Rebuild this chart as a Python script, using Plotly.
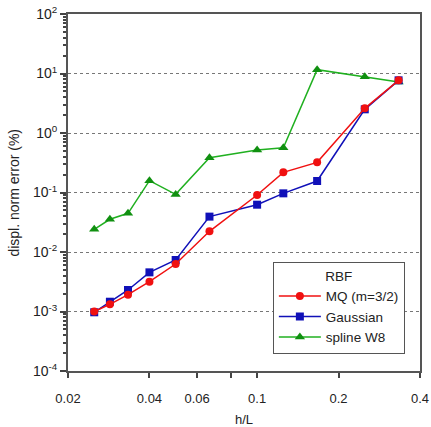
import plotly.graph_objects as go

h_L = [0.025, 0.02857, 0.03333, 0.04, 0.05, 0.06667, 0.1, 0.125, 0.16667, 0.25, 0.33333]
mq = [0.00100, 0.00132, 0.00192, 0.00317, 0.00628, 0.0223, 0.0908, 0.218, 0.321, 2.60, 7.68]
gauss = [0.00097, 0.00146, 0.0023, 0.00455, 0.00734, 0.0393, 0.0624, 0.0968, 0.156, 2.50, 7.68]
spline = [0.0241, 0.0355, 0.0447, 0.158, 0.093, 0.385, 0.518, 0.566, 11.6, 8.85, 7.2]

x_tickvals = [0.02, 0.04, 0.06, 0.08, 0.1, 0.2, 0.4]
x_ticktext = ["0.02", "0.04", "0.06", "", "0.1", "0.2", "0.4"]
y_tickvals = [1e-4, 1e-3, 1e-2, 1e-1, 1, 10, 100]
y_ticktext = ["10<sup>-4</sup>", "10<sup>-3</sup>", "10<sup>-2</sup>", "10<sup>-1</sup>",
              "10<sup>0</sup>", "10<sup>1</sup>", "10<sup>2</sup>"]

RED = "#f01010"
BLUE = "#1010b8"
GREEN = "#20b020"

fig = go.Figure()
fig.add_trace(go.Scatter(x=h_L, y=spline, mode="lines+markers", name="spline W8",
                         line=dict(color=GREEN, width=1.5),
                         marker=dict(symbol="triangle-up", size=9, color="#109010"),
                         legendrank=3))
fig.add_trace(go.Scatter(x=h_L, y=gauss, mode="lines+markers", name="Gaussian",
                         line=dict(color=BLUE, width=1.5),
                         marker=dict(symbol="square", size=8, color=BLUE),
                         legendrank=2))
fig.add_trace(go.Scatter(x=h_L, y=mq, mode="lines+markers", name="MQ (m=3/2)",
                         line=dict(color=RED, width=1.5),
                         marker=dict(symbol="circle", size=8, color=RED),
                         legendrank=1))

font = "Liberation Sans, Arial, sans-serif"
fig.update_layout(
    width=431, height=427,
    margin=dict(l=68, r=11, t=14, b=56, autoexpand=False),
    plot_bgcolor="white", paper_bgcolor="white",
    font=dict(family=font, size=13, color="#222"),
    legend=dict(
        x=0.582, y=0.305, xanchor="left", yanchor="top",
        bgcolor="white", bordercolor="#555", borderwidth=1,
        font=dict(size=13.5, color="#222"),
        title=dict(text="RBF", side="top center", font=dict(size=13.5)),
        tracegroupgap=0, itemwidth=42,
    ),
    xaxis=dict(
        type="log", range=[-1.69897, -0.39794], automargin=False,
        tickmode="array", tickvals=x_tickvals, ticktext=x_ticktext,
        ticks="outside", ticklen=5, tickwidth=1.5, tickcolor="#444",
        showline=True, linecolor="#555", linewidth=2, mirror=True,
        showgrid=False, zeroline=False,
        ticklabelstandoff=9,
        title=dict(text="h/L", font=dict(size=13), standoff=10),
        tickfont=dict(size=13, color="#222"),
    ),
    yaxis=dict(
        type="log", range=[-4, 2], automargin=False,
        tickmode="array", tickvals=y_tickvals, ticktext=y_ticktext,
        ticks="outside", ticklen=6, tickwidth=1.5, tickcolor="#444",
        minor=dict(ticks="outside", ticklen=3, tickcolor="#444", dtick="D1", showgrid=False),
        showline=True, linecolor="#555", linewidth=2, mirror=True,
        showgrid=True, gridcolor="#777", gridwidth=1, griddash="dot",
        zeroline=False,
        tickfont=dict(size=14, color="#222"),
    ),
    annotations=[dict(
        text="displ. norm error (%)", textangle=-90,
        xref="paper", yref="paper", x=-0.156, y=0.5,
        xanchor="center", yanchor="middle", showarrow=False,
        font=dict(size=14, color="#222"),
    )],
)

fig.write_html("out.html")
